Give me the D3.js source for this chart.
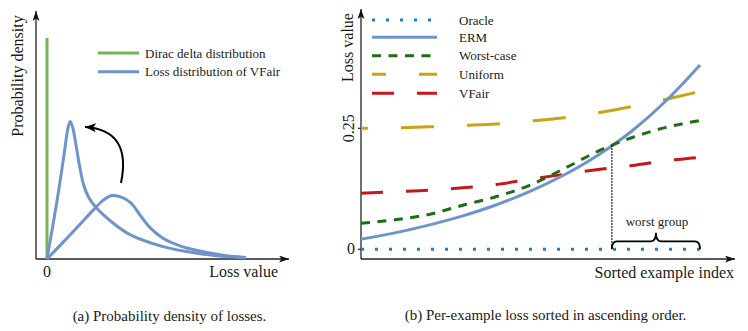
<!DOCTYPE html>
<html><head><meta charset="utf-8">
<script src="https://cdn.jsdelivr.net/npm/d3@7"></script>
<style>
body{margin:0;background:#fff}
svg{display:block}
text{font-family:"Liberation Serif","Times New Roman",serif;fill:#1a1a1a}
</style>
</head><body>
<svg id="chart" width="748" height="331"></svg>
<script>
// ---------- Panel (a): probability density of losses ----------
const diracHeight = 1.105;
// flat, wide density (before) and peaked density (VFair), [loss, density]
const wideDensity = [[0,0],[0.8,0.083],[1.6,0.168],[2.3,0.243],[2.8,0.293],[3.25,0.317],[3.75,0.308],[4.2,0.28],[4.65,0.22],[5.15,0.157],[5.8,0.104],[6.65,0.066],[7.5,0.043],[8.5,0.024],[9.2,0.014],[9.95,0.008]];
const vfairDensity = [[0,0],[0.5,0.29],[0.85,0.52],[1.05,0.655],[1.16,0.687],[1.28,0.66],[1.45,0.57],[1.62,0.47],[1.82,0.375],[2.1,0.305],[2.5,0.252],[3.3,0.18],[4.15,0.122],[5.8,0.062],[7.5,0.029],[9,0.012],[9.95,0.007]];
const shiftArrow = [[3.7,0.38],[4.25,0.645],[1.9,0.66]]; // start, control, end
const legendA = ["Dirac delta distribution", "Loss distribution of VFair"];

// ---------- Panel (b): per-example loss sorted ----------
const sortedIndex   = [0,10,20,30,40,50,60,70,80,90,100];
const oracleLoss    = [0,0,0,0,0,0,0,0,0,0,0];
const ermLoss       = [0.021,0.034,0.050,0.069,0.092,0.120,0.154,0.195,0.245,0.307,0.381];
const worstCaseLoss = [0.054,0.061,0.072,0.091,0.109,0.133,0.167,0.203,0.231,0.252,0.266];
const uniformLoss   = [0.250,0.251,0.253,0.256,0.259,0.265,0.272,0.282,0.295,0.310,0.326];
const vfairLoss     = [0.116,0.119,0.122,0.127,0.134,0.145,0.155,0.165,0.173,0.183,0.190];
const yTickValues   = [0, 0.25];
const yTickLabels   = ["0", "0.25"];
const worstGroupStart = 74;
const worstGroupEnd = 100;
const seriesNames = ["Oracle","ERM","Worst-case","Uniform","VFair"];

// ---------- drawing ----------
const svg = d3.select("#chart");
const defs = svg.append("defs");
function marker(id, w, h, color){
  defs.append("marker").attr("id", id).attr("viewBox", `0 0 ${h} ${w}`)
    .attr("refX", h).attr("refY", w/2).attr("markerWidth", h).attr("markerHeight", w)
    .attr("markerUnits","userSpaceOnUse").attr("orient","auto")
    .append("path").attr("d", `M0,0 L${h},${w/2} L0,${w} L${h*0.25},${w/2} Z`).attr("fill", color);
}
marker("axisArrow", 7, 10, "#111");
marker("curveArrow", 9, 11, "#000");

const blue = "#6f93cb";

// ===== Panel (a) =====
const xA = d3.scaleLinear().domain([0,10]).range([47,247]);
const yA = d3.scaleLinear().domain([0,1]).range([259,59]);
const gA = svg.append("g");
gA.append("line").attr("x1",36).attr("y1",259).attr("x2",36).attr("y2",11)
  .attr("stroke","#222").attr("stroke-width",1.3).attr("marker-end","url(#axisArrow)");
gA.append("line").attr("x1",36).attr("y1",259).attr("x2",289).attr("y2",259)
  .attr("stroke","#222").attr("stroke-width",1.3).attr("marker-end","url(#axisArrow)");
gA.append("line").attr("x1",xA(0)).attr("x2",xA(0)).attr("y1",yA(0)).attr("y2",yA(diracHeight))
  .attr("stroke","#74b555").attr("stroke-width",3);
const lineA = d3.line().x(d=>xA(d[0])).y(d=>yA(d[1])).curve(d3.curveCatmullRom.alpha(0.5));
gA.append("path").datum(wideDensity).attr("d",lineA).attr("fill","none")
  .attr("stroke",blue).attr("stroke-width",3).attr("stroke-linejoin","round");
gA.append("path").datum(vfairDensity).attr("d",lineA).attr("fill","none")
  .attr("stroke",blue).attr("stroke-width",3).attr("stroke-linejoin","round");
const arr = d3.path();
arr.moveTo(xA(shiftArrow[0][0]), yA(shiftArrow[0][1]));
arr.quadraticCurveTo(xA(shiftArrow[1][0]), yA(shiftArrow[1][1]), xA(shiftArrow[2][0]), yA(shiftArrow[2][1]));
gA.append("path").attr("d", arr.toString()).attr("fill","none").attr("stroke","#000")
  .attr("stroke-width",2).attr("marker-end","url(#curveArrow)");
const legColorsA = ["#74b555", blue];
legendA.forEach((t,i)=>{
  const y = 53 + i*18.7;
  gA.append("line").attr("x1",98).attr("x2",139).attr("y1",y).attr("y2",y)
    .attr("stroke",legColorsA[i]).attr("stroke-width",3);
  gA.append("text").attr("x",145).attr("y",y+4.5).attr("font-size",13).text(t);
});
gA.append("text").attr("x",xA(0)).attr("y",277).attr("text-anchor","middle").attr("font-size",16).text("0");
gA.append("text").attr("x",278).attr("y",277).attr("text-anchor","end").attr("font-size",16).text("Loss value");
gA.append("text").attr("transform","translate(23,76) rotate(-90)").attr("text-anchor","middle")
  .attr("font-size",16).text("Probability density");
gA.append("text").attr("x",169.5).attr("y",321).attr("text-anchor","middle").attr("font-size",15)
  .text("(a) Probability density of losses.");

// ===== Panel (b) =====
const xB = d3.scaleLinear().domain([0,100]).range([361,700]);
const yB = d3.scaleLinear().domain([0,0.25]).range([249.3,128.3]);
const gB = svg.append("g");
gB.append("line").attr("x1",361).attr("y1",259).attr("x2",361).attr("y2",9)
  .attr("stroke","#222").attr("stroke-width",1.3).attr("marker-end","url(#axisArrow)");
gB.append("line").attr("x1",361).attr("y1",259).attr("x2",735).attr("y2",259)
  .attr("stroke","#222").attr("stroke-width",1.3).attr("marker-end","url(#axisArrow)");
yTickValues.forEach((v,i)=>{
  gB.append("line").attr("x1",358).attr("x2",361).attr("y1",yB(v)).attr("y2",yB(v))
    .attr("stroke","#222").attr("stroke-width",1.2);
  if (i === 0) {
    gB.append("text").attr("x",355).attr("y",yB(v)+5).attr("text-anchor","end").attr("font-size",16).text(yTickLabels[i]);
  } else {
    gB.append("text").attr("transform",`translate(354,${yB(v)}) rotate(-90)`).attr("text-anchor","middle")
      .attr("font-size",16).text(yTickLabels[i]);
  }
});
const series = [
  {name: seriesNames[0], values: oracleLoss,    color:"#1f80c6", dash:"3,11",   off:0},
  {name: seriesNames[1], values: ermLoss,       color:blue,      dash:null,     off:0},
  {name: seriesNames[2], values: worstCaseLoss, color:"#1d6e14", dash:"9,7.5",  off:0},
  {name: seriesNames[3], values: uniformLoss,   color:"#c9a313", dash:"33,33",  off:26, legOff:19},
  {name: seriesNames[4], values: vfairLoss,     color:"#c8161d", dash:"22,23",  off:0, legOff:0}
];
const lineB = d3.line().x(d=>xB(d[0])).y(d=>yB(d[1])).curve(d3.curveMonotoneX);
[3,4,1,2,0].forEach(k=>{
  const s = series[k];
  gB.append("path").datum(sortedIndex.map((x,i)=>[x, s.values[i]])).attr("d", lineB)
    .attr("fill","none").attr("stroke", s.color).attr("stroke-width",3)
    .attr("stroke-dasharray", s.dash).attr("stroke-dashoffset", s.off);
});
const ermAtStart = d3.scaleLinear().domain(sortedIndex).range(ermLoss)(worstGroupStart);
gB.append("line").attr("x1",xB(worstGroupStart)).attr("x2",xB(worstGroupStart))
  .attr("y1",yB(ermAtStart)).attr("y2",yB(0)).attr("stroke","#111")
  .attr("stroke-width",1.5).attr("stroke-dasharray","1.5,1.5");
{
  const x0 = xB(worstGroupStart), x1 = xB(worstGroupEnd), xm = (x0+x1)/2;
  const yb = yB(0), yh = yb - 8, yt = yb - 16.5;
  const p = d3.path();
  p.moveTo(x0, yb);
  p.quadraticCurveTo(x0, yh, x0+5, yh);
  p.lineTo(xm-5, yh);
  p.quadraticCurveTo(xm, yh, xm, yt);
  p.quadraticCurveTo(xm, yh, xm+5, yh);
  p.lineTo(x1-5, yh);
  p.quadraticCurveTo(x1, yh, x1, yb);
  gB.append("path").attr("d", p.toString()).attr("fill","none").attr("stroke","#000").attr("stroke-width",1.8);
  gB.append("text").attr("x", xm+1).attr("y", 226).attr("text-anchor","middle").attr("font-size",13).text("worst group");
}
const legRows = [20, 37.3, 55.7, 74.3, 93.3];
series.forEach((s,i)=>{
  gB.append("line").attr("x1",372).attr("x2",437).attr("y1",legRows[i]).attr("y2",legRows[i])
    .attr("stroke",s.color).attr("stroke-width",3)
    .attr("stroke-dasharray",s.dash).attr("stroke-dashoffset", s.legOff !== undefined ? s.legOff : 0);
  gB.append("text").attr("x",459).attr("y",legRows[i]+4.5).attr("font-size",13).text(s.name);
});
gB.append("text").attr("transform","translate(353,47.5) rotate(-90)").attr("text-anchor","middle")
  .attr("font-size",16).text("Loss value");
gB.append("text").attr("x",734).attr("y",278).attr("text-anchor","end").attr("font-size",16).text("Sorted example index");
gB.append("text").attr("x",545.5).attr("y",320).attr("text-anchor","middle").attr("font-size",15)
  .text("(b) Per-example loss sorted in ascending order.");
</script>
</body></html>
